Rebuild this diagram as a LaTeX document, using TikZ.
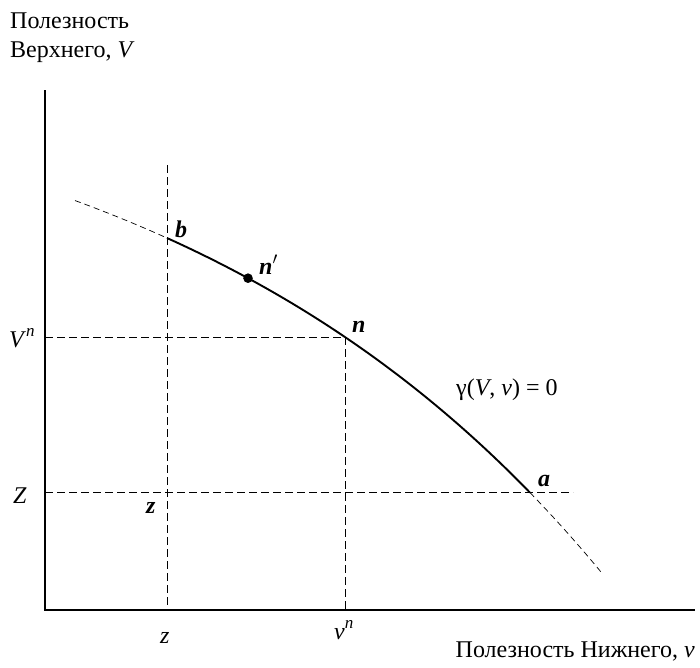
\documentclass[tikz,border=0pt]{standalone}
\usepackage{fontspec}
\setmainfont{Liberation Serif}
\usetikzlibrary{positioning}

\tikzset{
  lbl/.style={inner sep=0pt,anchor=base west},
  guide/.style={dash pattern=on 8pt off 4pt,line width=0.8pt},
  declare function={util(\t)=39.4+135.9*exp(\t/440);}
}

\begin{document}
\begin{tikzpicture}[x=1pt,y=-1pt,font=\fontsize{24}{28}\selectfont]
\useasboundingbox (0,0) rectangle (700,667);

% Axes
\coordinate (O) at (45,610);
\coordinate (Ytop) at (45,90);
\coordinate (Xend) at (695,610);
\draw[line width=1.3pt] (Ytop)--(O)--(Xend);

% Points on the frontier
\coordinate (b) at (167,{util(167)});
\coordinate (n) at (345,{util(345)});
\coordinate (a) at (530,{util(530)});
\coordinate (btop) at (167,165);
\coordinate (Zr) at (573,{util(530)});

% Guide lines
\draw[guide] (btop)--(btop |- O);
\draw[guide] (n)--(n |- O);
\draw[guide] (O |- n)--(n);
\draw[guide] (O |- a)--(Zr);

% Frontier gamma(V,v)=0
\draw[guide,line width=0.7pt,dash pattern=on 6pt off 4pt] plot[domain=75:167,samples=20] (\x,{util(\x)});
\draw[line width=1.9pt] plot[domain=167:530,samples=80] (\x,{util(\x)});
\draw[guide,line width=0.7pt,dash pattern=on 6pt off 4pt] plot[domain=530:602,samples=20] (\x,{util(\x)});

% Point n'
\fill (248,{util(248)}) circle (4.8pt);

% Labels
\node[lbl] (lb) at (175,237) {\textbf{\textit{b}}};
\node[lbl] (lnp) at (259,274) {\textbf{\textit{n\/}}\rlap{$'$}};
\node[lbl] (ln) at (352,332) {\textbf{\textit{n}}};
\node[lbl] (la) at (538,486) {\textbf{\textit{a}}};
\node[lbl] (lz) at (146,513) {\textbf{\textit{z}}};
\node[lbl] (lgam) at (456,395) {γ(\textit{V}, \textit{v}) = 0};
\node[lbl] (lVn) at (9,347) {\textit{V}\raisebox{0.42em}{\fontsize{17}{17}\selectfont\textit{n}}};
\node[lbl] (lZ) at (13,503) {\textit{Z}};
\node[lbl] (lzx) at (160,643) {\textit{z}};
\node[lbl] (lvn) at (334,639) {\textit{v}\raisebox{0.42em}{\fontsize{17}{17}\selectfont\textit{n}}};

% Axis titles
\node[lbl] (ytitle) at (10,28) {Полезность};
\node[lbl] (ytitle2) at (10,57) {Верхнего, \textit{V}};
\node[inner sep=0pt,anchor=base east] (xtitle) at (695,657) {Полезность Нижнего, \textit{v}};

\end{tikzpicture}
\end{document}
